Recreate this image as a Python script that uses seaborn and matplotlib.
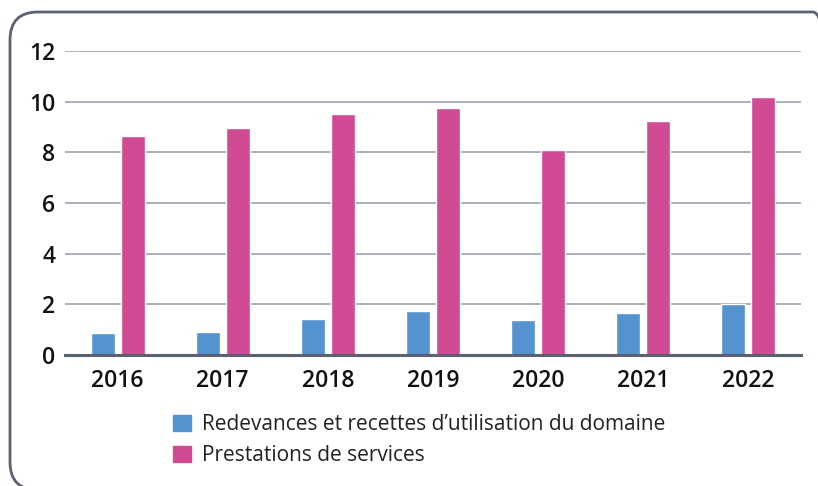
import numpy as np
import pandas as pd
import seaborn as sns
import matplotlib.pyplot as plt
from matplotlib.patches import FancyBboxPatch

# données
annees = ['2016', '2017', '2018', '2019', '2020', '2021', '2022']
redevances = [0.88, 0.92, 1.43, 1.74, 1.39, 1.67, 2.0]
prestations = [8.65, 8.98, 9.5, 9.76, 8.1, 9.22, 10.2]
series = ['Redevances et recettes d\u2019utilisation du domaine', 'Prestations de services']
couleurs = ['#5592D0', '#D04B94']

df = pd.DataFrame({
    'annee': annees * 2,
    'valeur': redevances + prestations,
    'serie': [series[0]] * len(annees) + [series[1]] * len(annees),
})

sns.set_theme(style='white')
plt.rcParams['font.family'] = ['Open Sans', 'DejaVu Sans']

fig = plt.figure(figsize=(8.18, 4.86), dpi=100)
ax = fig.add_axes([0.0795, 0.2695, 0.8995, 0.6255])

sns.barplot(data=df, x='annee', y='valeur', hue='serie', palette=couleurs,
            width=0.57, gap=0.2, ax=ax, legend=False, saturation=1)

ax.set_xlim(-0.5, 6.5)
ax.set_ylim(0, 12)
ax.set_yticks(range(0, 13, 2))
ax.yaxis.grid(True, color='#A9AFBA', linewidth=1.4)
ax.set_axisbelow(True)
for s in ['top', 'right', 'left']:
    ax.spines[s].set_visible(False)
ax.spines['bottom'].set_color('#5B6170')
ax.spines['bottom'].set_linewidth(2.2)
ax.set_xlabel('')
ax.set_ylabel('')
ax.tick_params(axis='y', length=0, pad=7, labelsize=16.5, labelcolor='#111111')
ax.tick_params(axis='x', length=0, pad=10, labelsize=16.5, labelcolor='#111111')
for lab in ax.get_xticklabels() + ax.get_yticklabels():
    lab.set_fontweight('semibold')

# légende
handles = [plt.Rectangle((0, 0), 1, 1, color=c) for c in couleurs]
fig.legend(handles, series, loc='upper left', bbox_to_anchor=(0.212, 0.148),
           frameon=False, fontsize=15, handlelength=0.85, handleheight=0.85,
           handletextpad=0.5, labelspacing=0.48, labelcolor='#222222',
           borderaxespad=0, borderpad=0)

# cadre arrondi (en pouces)
cadre = FancyBboxPatch((0.10, -0.04), 8.31, 4.78,
                       boxstyle='round,pad=0,rounding_size=0.28',
                       transform=fig.dpi_scale_trans, fill=False,
                       edgecolor='#5B6170', linewidth=2.0)
fig.patches.append(cadre)

fig.savefig('out.png', dpi=100)
